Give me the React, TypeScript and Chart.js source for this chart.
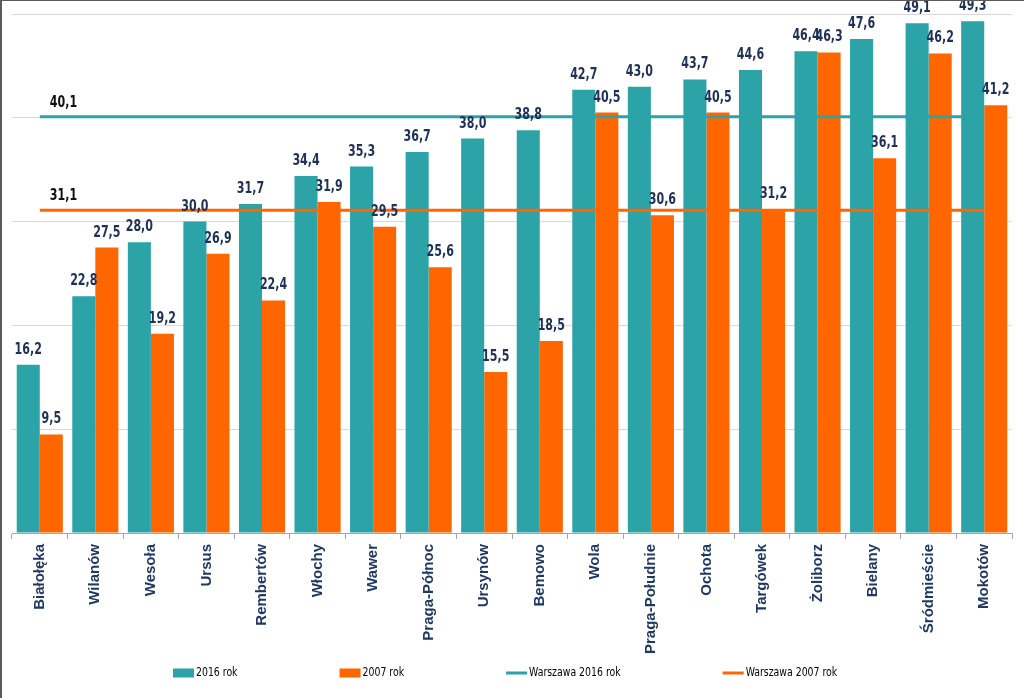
import React, { useEffect, useRef } from "react";
import { Chart, registerables } from "chart.js";

Chart.register(...registerables);

const categories = [
  "Białołęka", "Wilanów", "Wesoła", "Ursus", "Rembertów", "Włochy", "Wawer",
  "Praga-Północ", "Ursynów", "Bemowo", "Wola", "Praga-Południe", "Ochota",
  "Targówek", "Żoliborz", "Bielany", "Śródmieście", "Mokotów",
];
const values2016 = [16.2, 22.8, 28.0, 30.0, 31.7, 34.4, 35.3, 36.7, 38.0, 38.8, 42.7, 43.0, 43.7, 44.6, 46.4, 47.6, 49.1, 49.3];
const values2007 = [9.5, 27.5, 19.2, 26.9, 22.4, 31.9, 29.5, 25.6, 15.5, 18.5, 40.5, 30.6, 40.5, 31.2, 46.3, 36.1, 46.2, 41.2];
const warszawa2016 = 40.1;
const warszawa2007 = 31.1;
const seriesLabels = ["2016 rok", "2007 rok", "Warszawa 2016 rok", "Warszawa 2007 rok"];
const yTicks = [0, 10, 20, 30, 40, 50];

const TEAL = "#2ba3a7";
const ORANGE = "#ff6600";
const NAVY = "#1f3157";
const NARROW = '"Liberation Sans Narrow", "Arial Narrow", "DejaVu Sans Condensed", sans-serif';

const fmt = (v: number) => v.toFixed(1).replace(".", ",");

const labelsPlugin = {
  id: "valueLabels",
  afterDatasetsDraw(chart: any) {
    const ctx = chart.ctx;
    ctx.save();
    chart.data.datasets.forEach((ds: any, di: number) => {
      const meta = chart.getDatasetMeta(di);
      if (ds.type === "bar") {
        meta.data.forEach((el: any, i: number) => {
          const text = fmt(ds.data[i]);
          ctx.save();
          ctx.font = `bold 15px ${NARROW}`;
          ctx.fillStyle = NAVY;
          ctx.textAlign = "center";
          ctx.textBaseline = "alphabetic";
          ctx.translate(el.x, el.y - 11);
          ctx.scale(0.82, 1);
          ctx.fillText(text, 0, 0);
          ctx.restore();
        });
      } else if (meta.data.length) {
        const el = meta.data[0];
        ctx.save();
        ctx.font = `bold 15px ${NARROW}`;
        ctx.fillStyle = "#111111";
        ctx.textAlign = "left";
        ctx.textBaseline = "alphabetic";
        ctx.translate(el.x + 10, el.y - 10);
        ctx.scale(0.82, 1);
        ctx.fillText(fmt(ds.data[0]), 0, 0);
        ctx.restore();
      }
    });
    ctx.restore();
  },
};

const framePlugin = {
  id: "frame",
  beforeDraw(chart: any) {
    const ctx = chart.ctx;
    ctx.save();
    ctx.fillStyle = "#ffffff";
    ctx.fillRect(0, 0, chart.width, chart.height);
    ctx.restore();
  },
  afterDraw(chart: any) {
    const ctx = chart.ctx;
    ctx.save();
    ctx.fillStyle = "#5a5a5a";
    ctx.fillRect(0, 0, 2, chart.height);
    ctx.fillRect(0, 0, chart.width, 1);
    ctx.restore();
  },
};

const legendPlugin = {
  id: "customLegend",
  afterDraw(chart: any) {
    const ctx = chart.ctx;
    ctx.save();
    ctx.font = `13px ${NARROW}`;
    ctx.textBaseline = "middle";
    ctx.textAlign = "left";
    const y = 673;
    const gap = 102;
    const sym = 21;
    const sx = 0.8;
    let x = 173;
    chart.data.datasets.forEach((ds: any) => {
      if (ds.type === "bar") {
        ctx.fillStyle = ds.backgroundColor;
        ctx.fillRect(x, y - 4.5, sym, 9);
      } else {
        ctx.strokeStyle = ds.borderColor;
        ctx.lineWidth = 3;
        ctx.beginPath();
        ctx.moveTo(x, y);
        ctx.lineTo(x + sym, y);
        ctx.stroke();
      }
      ctx.save();
      ctx.fillStyle = "#000000";
      ctx.translate(x + sym + 2, y);
      ctx.scale(sx, 1);
      ctx.fillText(ds.label, 0, 0);
      ctx.restore();
      x += sym + 2 + ctx.measureText(ds.label).width * sx + gap;
    });
    ctx.restore();
  },
};

export default function App() {
  const ref = useRef<HTMLCanvasElement>(null);
  useEffect(() => {
    document.body.style.margin = "0";
    const chart = new Chart(ref.current as HTMLCanvasElement, {
      type: "bar",
      data: {
        labels: categories,
        datasets: [
          { type: "bar", label: seriesLabels[0], data: values2016, backgroundColor: TEAL, order: 2 } as any,
          { type: "bar", label: seriesLabels[1], data: values2007, backgroundColor: ORANGE, order: 2 } as any,
          { type: "line", label: seriesLabels[2], data: categories.map(() => warszawa2016), borderColor: TEAL, backgroundColor: TEAL, borderWidth: 3, pointRadius: 0, order: 0 } as any,
          { type: "line", label: seriesLabels[3], data: categories.map(() => warszawa2007), borderColor: ORANGE, backgroundColor: ORANGE, borderWidth: 3, pointRadius: 0, order: 1 } as any,
        ],
      },
      options: {
        animation: false,
        responsive: false,
        maintainAspectRatio: false,
        datasets: { bar: { categoryPercentage: 0.83, barPercentage: 1.0 } },
        layout: { padding: { top: 14, right: 12, left: 0, bottom: 43 } },
        plugins: { legend: { display: false }, tooltip: { enabled: false } },
        scales: {
          x: {
            offset: true,
            grid: { offset: true, drawOnChartArea: false, drawTicks: true, tickLength: 6, color: "#a6a6a6" },
            border: { display: true, color: "#a6a6a6", width: 1 },
            ticks: {
              autoSkip: false,
              minRotation: 90,
              maxRotation: 90,
              padding: 5,
              color: "#1f3864",
              font: { family: '"Liberation Sans", Arial, sans-serif', weight: "bold", size: 15 },
            },
            afterFit: (s: any) => { s.height = 122; },
          },
          y: {
            min: yTicks[0],
            max: yTicks[yTicks.length - 1],
            afterBuildTicks: (s: any) => { s.ticks = yTicks.map((v) => ({ value: v })); },
            grid: { color: "#d9d9d9", drawTicks: false },
            border: { display: false },
            ticks: { display: false },
            afterFit: (s: any) => { s.width = 12; },
          },
        },
      },
      plugins: [framePlugin, labelsPlugin, legendPlugin],
    });
    return () => chart.destroy();
  }, []);
  return (
    <div style={{ width: 1024, height: 698 }}>
      <canvas ref={ref} width={1024} height={698} style={{ display: "block", width: 1024, height: 698 }} />
    </div>
  );
}
